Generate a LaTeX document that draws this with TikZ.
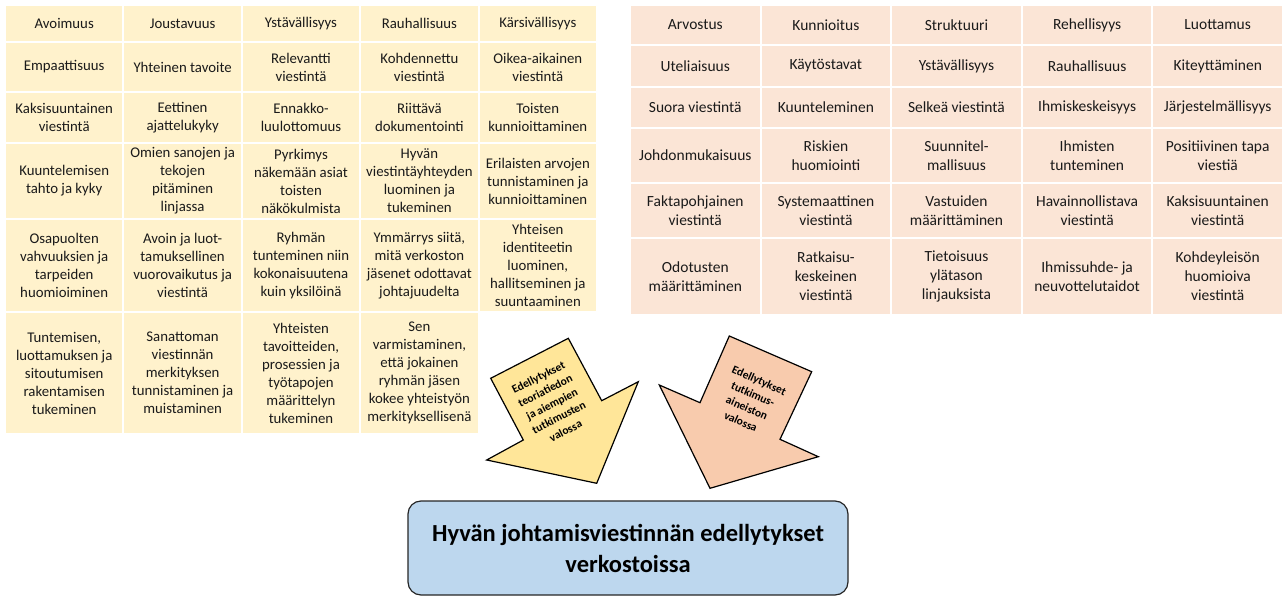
\documentclass[tikz,border=0pt]{standalone}
\usepackage{fontspec}
\setmainfont{Carlito}
\definecolor{Cellyellow}{HTML}{FFF2CC}
\definecolor{Cellpink}{HTML}{FBE5D6}
\definecolor{Arrowyellow}{HTML}{FFE699}
\definecolor{Arrowpink}{HTML}{F8CBAD}
\definecolor{Goalblue}{HTML}{BDD7EE}
\definecolor{Textgray}{HTML}{1A1A1A}
\begin{document}
\begin{tikzpicture}
[
x=1pt, y=-1pt,
Ycell/.style={rectangle, fill=Cellyellow, draw=white, line width=2pt, minimum width=118.4pt, inner sep=0pt, align=center, text=Textgray, font=\fontsize{14.8}{18}\selectfont},
Pcell/.style={rectangle, fill=Cellpink, draw=white, line width=2pt, minimum width=130.6pt, inner sep=0pt, align=center, text=Textgray, font=\fontsize{15.5}{19}\selectfont},
Yarrow/.style={draw=black, fill=Arrowyellow, line width=1.2pt, line join=miter},
Parrow/.style={draw=black, fill=Arrowpink, line width=1.2pt, line join=miter},
Arrowtext/.style={align=center, inner sep=0pt, text=black, font=\fontsize{11.5}{15}\selectfont\bfseries},
Goal/.style={rectangle, rounded corners=13pt, draw=black!85, fill=Goalblue, line width=1.2pt, minimum width=440pt, minimum height=94pt, align=center, font=\fontsize{24.5}{31}\selectfont\bfseries}
]
\useasboundingbox (0,0) rectangle (1283,596);

% theory table
\node[Ycell, minimum height=37pt] (T11) at (64.2,23.5)  {Avoimuus};
\node[Ycell, minimum height=37pt] (T12) at (182.6,23.5) {Joustavuus};
\node[Ycell, minimum height=37pt] (T13) at (301.0,23.5) {Ystävällisyys};
\node[Ycell, minimum height=37pt] (T14) at (419.4,23.5) {Rauhallisuus};
\node[Ycell, minimum height=37pt] (T15) at (537.8,23.5) {Kärsivällisyys};

\node[Ycell, minimum height=50pt] (T21) at (64.2,67)  {Empaattisuus};
\node[Ycell, minimum height=50pt] (T22) at (182.6,67) {Yhteinen tavoite};
\node[Ycell, minimum height=50pt] (T23) at (301.0,67) {Relevantti\\viestintä};
\node[Ycell, minimum height=50pt] (T24) at (419.4,67) {Kohdennettu\\viestintä};
\node[Ycell, minimum height=50pt] (T25) at (537.8,67) {Oikea-aikainen\\viestintä};

\node[Ycell, minimum height=51pt] (T31) at (64.2,117.5)  {Kaksisuuntainen\\viestintä};
\node[Ycell, minimum height=51pt] (T32) at (182.6,117.5) {Eettinen\\ajattelukyky};
\node[Ycell, minimum height=51pt] (T33) at (301.0,117.5) {Ennakko-\\luulottomuus};
\node[Ycell, minimum height=51pt] (T34) at (419.4,117.5) {Riittävä\\dokumentointi};
\node[Ycell, minimum height=51pt] (T35) at (537.8,117.5) {Toisten\\kunnioittaminen};

\node[Ycell, minimum height=76pt] (T41) at (64.2,181)  {Kuuntelemisen\\tahto ja kyky};
\node[Ycell, minimum height=76pt] (T42) at (182.6,181) {Omien sanojen ja\\tekojen\\pitäminen\\linjassa};
\node[Ycell, minimum height=76pt] (T43) at (301.0,181) {Pyrkimys\\näkemään asiat\\toisten\\näkökulmista};
\node[Ycell, minimum height=76pt] (T44) at (419.4,181) {Hyvän\\viestintäyhteyden\\luominen ja\\tukeminen};
\node[Ycell, minimum height=76pt] (T45) at (537.8,181) {Erilaisten arvojen\\tunnistaminen ja\\kunnioittaminen};

\node[Ycell, minimum height=93pt] (T51) at (64.2,265.5)  {Osapuolten\\vahvuuksien ja\\tarpeiden\\huomioiminen};
\node[Ycell, minimum height=93pt] (T52) at (182.6,265.5) {Avoin ja luot-\\tamuksellinen\\vuorovaikutus ja\\viestintä};
\node[Ycell, minimum height=93pt] (T53) at (301.0,265.5) {Ryhmän\\tunteminen niin\\kokonaisuutena\\kuin yksilöinä};
\node[Ycell, minimum height=93pt] (T54) at (419.4,265.5) {Ymmärrys siitä,\\mitä verkoston\\jäsenet odottavat\\johtajuudelta};
\node[Ycell, minimum height=93pt] (T55) at (537.8,265.5) {Yhteisen\\identiteetin\\luominen,\\hallitseminen ja\\suuntaaminen};

\node[Ycell, minimum height=122pt] (T61) at (64.2,373)  {Tuntemisen,\\luottamuksen ja\\sitoutumisen\\rakentamisen\\tukeminen};
\node[Ycell, minimum height=122pt] (T62) at (182.6,373) {Sanattoman\\viestinnän\\merkityksen\\tunnistaminen ja\\muistaminen};
\node[Ycell, minimum height=122pt] (T63) at (301.0,373) {Yhteisten\\tavoitteiden,\\prosessien ja\\työtapojen\\määrittelyn\\tukeminen};
\node[Ycell, minimum height=122pt] (T64) at (419.4,373) {Sen\\varmistaminen,\\että jokainen\\ryhmän jäsen\\kokee yhteistyön\\merkityksellisenä};

% data table
\node[Pcell, minimum height=40pt] (A11) at (695.3,25)  {Arvostus};
\node[Pcell, minimum height=40pt] (A12) at (825.9,25)  {Kunnioitus};
\node[Pcell, minimum height=40pt] (A13) at (956.5,25)  {Struktuuri};
\node[Pcell, minimum height=40pt] (A14) at (1087.1,25) {Rehellisyys};
\node[Pcell, minimum height=40pt] (A15) at (1217.7,25) {Luottamus};

\node[Pcell, minimum height=42pt] (A21) at (695.3,66)  {Uteliaisuus};
\node[Pcell, minimum height=42pt] (A22) at (825.9,66)  {Käytöstavat};
\node[Pcell, minimum height=42pt] (A23) at (956.5,66)  {Ystävällisyys};
\node[Pcell, minimum height=42pt] (A24) at (1087.1,66) {Rauhallisuus};
\node[Pcell, minimum height=42pt] (A25) at (1217.7,66) {Kiteyttäminen};

\node[Pcell, minimum height=41pt] (A31) at (695.3,107.5)  {Suora viestintä};
\node[Pcell, minimum height=41pt] (A32) at (825.9,107.5)  {Kuunteleminen};
\node[Pcell, minimum height=41pt] (A33) at (956.5,107.5)  {Selkeä viestintä};
\node[Pcell, minimum height=41pt] (A34) at (1087.1,107.5) {Ihmiskeskeisyys};
\node[Pcell, minimum height=41pt] (A35) at (1217.7,107.5) {Järjestelmällisyys};

\node[Pcell, minimum height=55pt] (A41) at (695.3,155.5)  {Johdonmukaisuus};
\node[Pcell, minimum height=55pt] (A42) at (825.9,155.5)  {Riskien\\huomiointi};
\node[Pcell, minimum height=55pt] (A43) at (956.5,155.5)  {Suunnitel-\\mallisuus};
\node[Pcell, minimum height=55pt] (A44) at (1087.1,155.5) {Ihmisten\\tunteminen};
\node[Pcell, minimum height=55pt] (A45) at (1217.7,155.5) {Positiivinen tapa\\viestiä};

\node[Pcell, minimum height=55pt] (A51) at (695.3,210.5)  {Faktapohjainen\\viestintä};
\node[Pcell, minimum height=55pt] (A52) at (825.9,210.5)  {Systemaattinen\\viestintä};
\node[Pcell, minimum height=55pt] (A53) at (956.5,210.5)  {Vastuiden\\määrittäminen};
\node[Pcell, minimum height=55pt] (A54) at (1087.1,210.5) {Havainnollistava\\viestintä};
\node[Pcell, minimum height=55pt] (A55) at (1217.7,210.5) {Kaksisuuntainen\\viestintä};

\node[Pcell, minimum height=77pt] (A61) at (695.3,276.5)  {Odotusten\\määrittäminen};
\node[Pcell, minimum height=77pt] (A62) at (825.9,276.5)  {Ratkaisu-\\keskeinen\\viestintä};
\node[Pcell, minimum height=77pt] (A63) at (956.5,276.5)  {Tietoisuus\\ylätason\\linjauksista};
\node[Pcell, minimum height=77pt] (A64) at (1087.1,276.5) {Ihmissuhde- ja\\neuvottelutaidot};
\node[Pcell, minimum height=77pt] (A65) at (1217.7,276.5) {Kohdeyleisön\\huomioiva\\viestintä};

% block arrows
\draw[Yarrow] (568.3,338.3)--(601.7,400.7)--(638.3,381.7)--(596.7,483.3)--(486.7,460)--(523.3,440)--(490.7,378.3)--cycle;
\draw[Parrow] (729.3,336)--(811.7,371.7)--(780,439.3)--(818.3,456.7)--(710,488.3)--(659.3,385)--(700,402.7)--cycle;
\node[Arrowtext, rotate=27] (Theory) at (552,404) {Edellytykset\\teoriatiedon\\ja aiempien\\tutkimusten\\valossa};
\node[Arrowtext, rotate=-24] (Data) at (750,401) {Edellytykset\\tutkimus-\\aineiston\\valossa};

% result
\node[Goal] (Result) at (628,548) {Hyvän johtamisviestinnän edellytykset\\verkostoissa};
\end{tikzpicture}
\end{document}
